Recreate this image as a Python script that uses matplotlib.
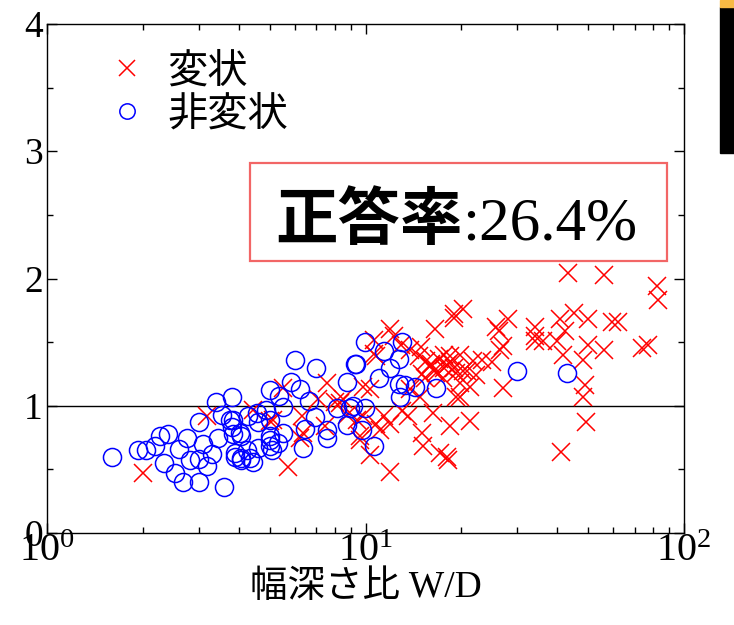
import numpy as np
import matplotlib
matplotlib.use("Agg")
import matplotlib.pyplot as plt
from matplotlib.patches import Rectangle
from matplotlib.ticker import LogLocator, MultipleLocator

plt.rcParams['font.family'] = ['Liberation Serif', 'Noto Sans CJK JP']

# 非変状 (circles): W/D ratio and y value
ok_x = [1.60, 1.93, 2.05, 2.18, 2.26, 2.40, 2.33, 2.52, 2.67, 3.00, 2.59, 2.75,
        2.81, 3.00, 3.17, 3.08, 3.29, 3.44, 3.59, 3.01, 3.39, 3.80, 3.54, 3.76,
        3.80, 3.89, 4.08, 4.08, 3.85, 3.89, 6.01, 7.00, 9.33, 9.96, 5.01, 5.36,
        5.82, 6.23, 6.66, 5.52, 4.87, 4.55, 4.29, 3.85, 4.04, 4.61, 5.01, 5.52,
        5.32, 5.01, 5.08, 4.61, 4.24, 4.34, 4.08, 4.44, 6.35, 6.46, 6.94, 7.55,
        7.55, 8.12, 8.73, 8.94, 9.96, 8.73, 9.72, 10.6, 11.4, 13.0, 12.7, 11.9,
        9.27, 11.0, 12.7, 13.3, 14.3, 16.7, 12.8, 9.16, 5.01, 5.00, 30.0, 42.9]
ok_y = [0.60, 0.65, 0.65, 0.68, 0.76, 0.78, 0.55, 0.47, 0.40, 0.40, 0.66, 0.75,
        0.57, 0.585, 0.53, 0.70, 0.62, 0.75, 0.365, 0.87, 1.03, 1.065, 0.93, 0.89,
        0.83, 0.60, 0.575, 0.76, 0.78, 0.63, 1.36, 1.30, 1.33, 1.50, 1.12, 1.08,
        1.19, 1.13, 1.04, 0.99, 0.97, 0.94, 0.92, 0.89, 0.785, 0.875, 0.89, 0.785,
        0.71, 0.73, 0.65, 0.67, 0.65, 0.59, 0.59, 0.56, 0.67, 0.82, 0.91, 0.81,
        0.75, 0.98, 1.19, 0.98, 0.98, 0.85, 0.81, 0.68, 1.43, 1.50, 1.37, 1.30,
        1.33, 1.22, 1.17, 1.16, 1.15, 1.14, 1.07, 0.995, 0.68, 0.76, 1.27, 1.26]

# 変状 (crosses)
ng_x = [2.00, 3.19, 5.52, 4.42, 5.13, 6.31, 6.23, 5.72, 7.55, 7.11, 7.46, 8.02,
        8.52, 8.73, 9.38, 9.84, 10.3, 9.61, 10.3, 10.6, 10.6, 10.8, 11.9, 16.5,
        18.9, 20.3, 10.8, 13.8, 14.7, 17.6, 18.4, 19.8, 21.8, 15.9, 16.7, 17.6,
        19.3, 20.8, 15.4, 21.3, 13.8, 14.8, 19.8, 13.0, 13.6, 16.3, 11.4, 11.9,
        11.1, 18.4, 21.3, 15.0, 15.2, 17.1, 18.2, 11.9, 43.1, 56.2, 82.1, 83.0,
        18.9, 25.7, 28.0, 26.3, 34.0, 34.0, 34.0, 36.2, 40.8, 45.0, 50.1, 59.3,
        62.2, 42.3, 50.1, 56.2, 73.6, 77.3, 41.8, 39.8, 48.3, 48.9, 48.3, 49.1,
        41.0, 27.1, 27.1, 26.4, 18.0, 23.2, 24.9, 18.4, 20.3, 22.3, 19.8, 19.3,
        5.01, 6.38, 8.32, 9.61, 9.84, 16.0, 17.0, 18.0, 16.5, 17.5, 15.0, 19.0,
        14.9, 15.5, 12.3, 12.9]
ng_y = [0.47, 0.92, 1.14, 0.97, 0.89, 0.92, 0.75, 0.52, 1.18, 1.05, 0.84, 1.03,
        1.05, 0.93, 0.89, 1.15, 1.13, 0.73, 0.61, 1.52, 1.41, 0.86, 1.60, 1.60,
        1.72, 1.76, 1.39, 1.44, 1.39, 1.40, 1.39, 1.40, 1.35, 1.31, 1.26, 1.30,
        1.26, 1.27, 1.22, 1.15, 1.13, 1.07, 1.07, 0.955, 0.92, 0.94, 0.92, 0.86,
        0.81, 0.84, 0.88, 0.785, 0.68, 0.63, 0.575, 0.48, 2.04, 2.03, 1.94, 1.83,
        1.69, 1.62, 1.68, 1.59, 1.62, 1.55, 1.51, 1.51, 1.68, 1.73, 1.68, 1.66,
        1.66, 1.59, 1.48, 1.44, 1.45, 1.48, 1.40, 1.51, 1.36, 1.165, 1.07, 0.87,
        0.64, 1.14, 1.47, 1.44, 0.60, 1.36, 1.34, 1.34, 1.27, 1.24, 1.18, 1.07,
        0.88, 0.785, 1.02, 0.76, 0.92, 1.33, 1.37, 1.32, 1.28, 1.22, 1.25, 1.30,
        1.46, 1.35, 1.55, 1.48]

labels = ['変状', '非変状']
score_label = '正答率'
score_value = ':26.4%'

W, H = 734, 625
fig = plt.figure(figsize=(W / 100, H / 100), dpi=100)
ax = fig.add_axes([47 / W, (H - 533) / H, 637 / W, 509 / H])

ax.plot(ng_x, ng_y, 'x', color='#ff0000', ms=13, mew=1.1, label=labels[0])
ax.plot(ok_x, ok_y, 'o', mfc='none', mec='#0000ff', ms=13, mew=1.1,
        label=labels[1])
ax.axhline(1, color='black', lw=1.0, zorder=0)

ax.set_xscale('log')
ax.set_xlim(1, 100)
ax.set_ylim(0, 4)
ax.yaxis.set_major_locator(MultipleLocator(1))
ax.yaxis.set_minor_locator(MultipleLocator(0.5))
ax.xaxis.set_minor_locator(LogLocator(base=10, subs=np.arange(2, 10)))
ax.tick_params(which='both', direction='in', top=True, right=True, width=1)
ax.tick_params(which='major', length=7)
ax.tick_params(which='minor', length=4)
ax.tick_params(axis='y', pad=3, labelsize=27)
ax.tick_params(axis='x', pad=0, labelsize=29)
for s in ax.spines.values():
    s.set_linewidth(1.0)

ax.set_xlabel('幅深さ比 W/D', fontsize=27, labelpad=0)

leg = ax.legend(loc='upper left', bbox_to_anchor=(0.094, 0.948),
                frameon=False, markerscale=0.85,
                handlelength=1.0, handletextpad=0.5, labelspacing=0.05,
                borderpad=0, borderaxespad=0,
                prop={'family': 'Noto Sans CJK JP', 'size': 29})

# score box
fig.patches.append(Rectangle((250 / W, 1 - 261 / H), 417 / W, 98 / H,
                             transform=fig.transFigure, fill=False,
                             edgecolor='#f26666', lw=1.6))
t1 = fig.text(275 / W, 1 - 239 / H, score_label, fontsize=45,
              fontweight='bold', family='Noto Sans CJK JP', va='baseline')
fig.canvas.draw()
bb = t1.get_window_extent()
fig.text(bb.x1 / W, 1 - 239 / H, score_value, fontsize=44,
         family='Liberation Serif', va='baseline')

# dark strip at the right edge
fig.patches.append(Rectangle((720 / W, 1 - 153 / H), 14 / W, 146 / H,
                             transform=fig.transFigure, color='black'))
fig.patches.append(Rectangle((720 / W, 1 - 7 / H), 14 / W, 7 / H,
                             transform=fig.transFigure, color='#f7b944'))

fig.savefig('out.png', dpi=100)
